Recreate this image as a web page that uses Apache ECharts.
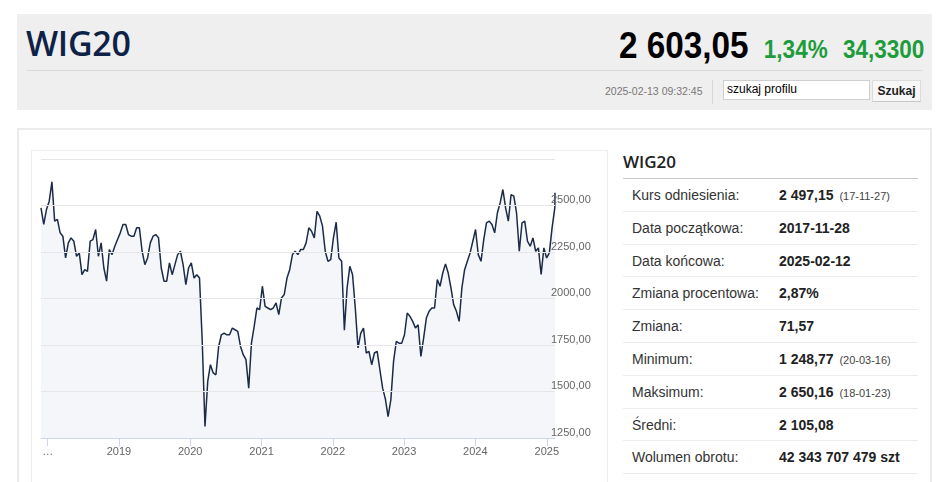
<!DOCTYPE html>
<html>
<head>
<meta charset="utf-8">
<script src="https://cdn.jsdelivr.net/npm/echarts@6/dist/echarts.min.js"></script>
<style>
  html,body{margin:0;padding:0;background:#fff;}
  body{width:948px;height:482px;position:relative;overflow:hidden;font-family:"Liberation Sans",Arial,sans-serif;}
  .abs{position:absolute;}
  #header{left:17px;top:14px;width:915px;height:96px;background:#efefef;}
  #title{left:26px;top:20px;font-family:"Open Sans",sans-serif;font-weight:600;font-size:34px;line-height:46px;color:#0d2246;letter-spacing:-0.3px;}
  #hline{left:27px;top:70px;width:895px;height:1px;background:#d9d9d9;}
  #quote{right:24px;top:25px;display:flex;align-items:baseline;white-space:nowrap;transform:scaleX(0.9);transform-origin:right center;}
  #price{font-family:"Liberation Sans",Arial,sans-serif;font-weight:bold;font-size:37px;color:#000;}
  .chg{font-family:"Liberation Sans",Arial,sans-serif;font-weight:bold;font-size:25px;color:#1e9c3c;margin-left:17px;}
  #stamp{left:605px;top:85px;font-size:10.5px;color:#777;}
  #vsep{left:712px;top:80px;width:1px;height:24px;background:#d8d8d8;}
  #search{left:723px;top:80px;width:142px;height:18px;border:1px solid #cfcfcf;background:#fff;font-size:12px;line-height:16px;color:#000;padding-left:3px;box-sizing:content-box;}
  #btn{left:872px;top:80px;width:47px;height:20px;border:1px solid #dcdcdc;border-bottom-color:#c8c8c8;background:#f7f7f7;font-size:12px;font-weight:bold;line-height:20px;text-align:center;color:#222;}
  #panel{left:17px;top:128px;width:911px;height:400px;border:2px solid #ebebeb;}
  #frame{left:31px;top:150px;width:575px;height:400px;border:1px solid #eeeeee;}
  #chart{left:31px;top:150px;width:576px;height:332px;}
  #info-title{left:623px;top:149px;font-family:"Open Sans",sans-serif;font-weight:600;font-size:17px;line-height:26px;color:#222;}
  #info-line{left:623px;top:178px;width:295px;height:1px;background:#c9c9c9;}
  #rows{left:623px;top:179px;width:295px;}
  .row{height:31.8px;border-bottom:1px solid #ececec;position:relative;font-size:14px;color:#333;}
  .row .l{position:absolute;left:9px;top:8px;}
  .row .v{position:absolute;left:156px;top:8px;font-weight:bold;color:#222;}
  .row .v small{font-weight:normal;font-size:11px;color:#444;margin-left:2px;}
</style>
</head>
<body>
<div id="header" class="abs"></div>
<div id="title" class="abs">WIG20</div>
<div id="hline" class="abs"></div>
<div id="quote" class="abs"><span id="price">2 603,05</span><span class="chg">1,34%</span><span class="chg">34,3300</span></div>
<div id="stamp" class="abs">2025-02-13 09:32:45</div>
<div id="vsep" class="abs"></div>
<div id="search" class="abs">szukaj profilu</div>
<div id="btn" class="abs">Szukaj</div>
<div id="panel" class="abs"></div>
<div id="frame" class="abs"></div>
<div id="chart" class="abs"></div>
<div id="info-title" class="abs">WIG20</div>
<div id="info-line" class="abs"></div>
<div id="rows" class="abs"></div>
<script>
// ---- data ----
const startDate = '2017-11-28';
const stepDays = 14;
const closes = [
  2487,2398,2478,2523,2627,2416,2425,2353,2335,2218,2299,2326,2308,2227,2245,2128,
  2155,2146,2308,2317,2371,2227,2299,2164,2093,2263,2236,2281,2317,2353,2398,2398,
  2344,2335,2335,2380,2380,2254,2182,2218,2299,2335,2344,2326,2164,2093,2093,2191,
  2128,2182,2236,2254,2182,2075,2164,2191,2110,2128,2110,1769,1312,1554,1644,1600,
  1590,1742,1805,1814,1805,1805,1841,1832,1823,1742,1698,1671,1518,1760,1850,1949,
  1940,2066,1958,1949,1940,1949,1976,1913,2003,2021,2110,2155,2236,2254,2236,2263,
  2263,2299,2380,2362,2326,2469,2443,2389,2254,2200,2209,2326,2410,2218,2200,1830,
  2057,2173,2128,1949,1734,1814,1841,1707,1716,1644,1707,1716,1617,1518,1460,1365,
  1455,1662,1769,1760,1760,1805,1922,1904,1877,1841,1859,1689,1787,1895,1931,1949,
  1949,2102,2066,2137,2186,2137,2057,1967,1931,1877,2057,2155,2200,2245,2308,2371,
  2236,2200,2317,2407,2416,2398,2353,2461,2514,2586,2487,2416,2559,2550,2461,2254,
  2407,2416,2308,2281,2326,2254,2272,2130,2272,2218,2245,2380,2487
];
const lastDate = '2025-02-12';
const lastClose = 2568.72;
const yTicks = [1250, 1500, 1750, 2000, 2250, 2500, 2750];

const infoLabels = ['Kurs odniesienia:','Data początkowa:','Data końcowa:','Zmiana procentowa:','Zmiana:','Minimum:','Maksimum:','Średni:','Wolumen obrotu:'];
const infoValues = ['2 497,15','2017-11-28','2025-02-12','2,87%','71,57','1 248,77','2 650,16','2 105,08','42 343 707 479 szt'];
const infoNotes  = ['(17-11-27)','','','','','(20-03-16)','(18-01-23)','',''];

// ---- info table ----
const rowsEl = document.getElementById('rows');
infoLabels.forEach((lab, i) => {
  const r = document.createElement('div');
  r.className = 'row';
  r.innerHTML = '<span class="l">' + lab + '</span><span class="v">' + infoValues[i] +
    (infoNotes[i] ? ' <small>' + infoNotes[i] + '</small>' : '') + '</span>';
  rowsEl.appendChild(r);
});

// ---- series ----
const t0 = new Date(startDate + 'T00:00:00').getTime();
const DAY = 86400000;
const seriesData = closes.map((v, i) => [t0 + i * stepDays * DAY, v]);
seriesData.push([new Date(lastDate + 'T00:00:00').getTime(), lastClose]);

const fmtNum = v => v.toFixed(2).replace('.', ',');

const chart = echarts.init(document.getElementById('chart'), null, {renderer: 'canvas'});
chart.setOption({
  animation: false,
  grid: {left: 10, top: 9, width: 514, height: 279, containLabel: false},
  xAxis: {
    type: 'time',
    min: t0,
    max: new Date(lastDate + 'T00:00:00').getTime(),
    minInterval: 365 * DAY,
    maxInterval: 366 * DAY,
    splitNumber: 7,
    z: 5,
    axisLine: {lineStyle: {color: '#ccd6eb', width: 1}},
    axisTick: {show: true, length: 8, lineStyle: {color: '#ccd6eb'}},
    splitLine: {show: false},
    axisLabel: {
      color: '#666666', fontSize: 11, fontFamily: 'Liberation Sans, Arial, sans-serif', margin: 8,
      showMinLabel: false, showMaxLabel: false,
      formatter: function (val) {
        const y = new Date(val).getFullYear();
        return y === 2018 ? '…' : String(y);
      }
    }
  },
  yAxis: {
    type: 'value',
    position: 'right',
    min: yTicks[0],
    max: yTicks[yTicks.length - 1],
    interval: yTicks[1] - yTicks[0],
    z: 5,
    axisLine: {show: false},
    axisTick: {show: false},
    splitLine: {lineStyle: {color: '#e6e6e6', width: 1}},
    axisLabel: {
      color: '#666666', fontSize: 11, fontFamily: 'Liberation Sans, Arial, sans-serif',
      margin: -4, verticalAlign: 'bottom', lineHeight: 11,
      formatter: function (v) { return v === yTicks[yTicks.length - 1] ? '' : fmtNum(v); }
    }
  },
  series: [{
    type: 'line',
    data: seriesData,
    showSymbol: false,
    symbol: 'none',
    lineStyle: {color: '#1b2b48', width: 1.5},
    areaStyle: {color: '#f4f6f9', origin: 'start', opacity: 1},
    z: 2
  }]
});
</script>
</body>
</html>
